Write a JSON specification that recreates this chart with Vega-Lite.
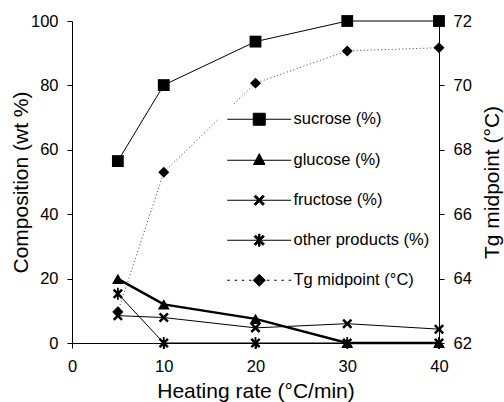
{
  "$schema": "https://vega.github.io/schema/vega-lite/v6.json",
  "width": 367,
  "height": 322,
  "autosize": {"type": "none"},
  "padding": {"left": 72, "top": 21, "right": 65, "bottom": 59},
  "background": "white",
  "config": {
    "font": "Liberation Sans",
    "view": {"stroke": null},
    "axis": {
      "grid": false,
      "domainColor": "black",
      "tickColor": "black",
      "labelColor": "black",
      "titleColor": "black",
      "labelFontSize": 16.5,
      "titleFontSize": 21,
      "titleFontWeight": "normal",
      "tickSize": 5,
      "labelPadding": 9
    },
    "legend": {
      "orient": "none",
      "legendX": 147,
      "legendY": 84,
      "fillColor": "white",
      "padding": 6,
      "labelFontSize": 16.5,
      "labelColor": "black",
      "symbolSize": 144,
      "symbolOpacity": 1,
      "symbolStrokeWidth": 1,
      "rowPadding": 23,
      "symbolOffset": 26,
      "labelOffset": 26
    }
  },
  "datasets": {
    "comp": [
      {"rate": 5, "series": "sucrose (%)", "value": 56.5},
      {"rate": 10, "series": "sucrose (%)", "value": 80.1},
      {"rate": 20, "series": "sucrose (%)", "value": 93.6},
      {"rate": 30, "series": "sucrose (%)", "value": 100},
      {"rate": 40, "series": "sucrose (%)", "value": 100},
      {"rate": 5, "series": "glucose (%)", "value": 19.9},
      {"rate": 10, "series": "glucose (%)", "value": 12.0},
      {"rate": 20, "series": "glucose (%)", "value": 7.5},
      {"rate": 30, "series": "glucose (%)", "value": 0},
      {"rate": 40, "series": "glucose (%)", "value": 0},
      {"rate": 5, "series": "fructose (%)", "value": 8.5},
      {"rate": 10, "series": "fructose (%)", "value": 7.9},
      {"rate": 20, "series": "fructose (%)", "value": 4.7},
      {"rate": 30, "series": "fructose (%)", "value": 6.0},
      {"rate": 40, "series": "fructose (%)", "value": 4.3},
      {"rate": 5, "series": "other products (%)", "value": 15.3},
      {"rate": 10, "series": "other products (%)", "value": 0},
      {"rate": 20, "series": "other products (%)", "value": 0},
      {"rate": 30, "series": "other products (%)", "value": 0},
      {"rate": 40, "series": "other products (%)", "value": 0}
    ],
    "tg": [
      {"rate": 5, "series": "Tg midpoint (°C)", "tg": 62.97},
      {"rate": 10, "series": "Tg midpoint (°C)", "tg": 67.3},
      {"rate": 20, "series": "Tg midpoint (°C)", "tg": 70.07},
      {"rate": 30, "series": "Tg midpoint (°C)", "tg": 71.07},
      {"rate": 40, "series": "Tg midpoint (°C)", "tg": 71.17}
    ]
  },
  "layer": [
    {
      "data": {"name": "comp"},
      "encoding": {
        "x": {
          "field": "rate", "type": "quantitative",
          "scale": {"domain": [0, 40], "nice": false},
          "axis": {"values": [0, 10, 20, 30, 40], "title": "Heating rate (°C/min)", "labelFlush": false, "labelPadding": 10, "titlePadding": 6}
        },
        "y": {
          "field": "value", "type": "quantitative",
          "scale": {"domain": [0, 100], "nice": false},
          "axis": {"values": [0, 20, 40, 60, 80, 100], "title": "Composition (wt %)", "titlePadding": -1}
        }
      },
      "layer": [
        {
          "transform": [{"filter": "datum.series !== 'glucose (%)'"}],
          "mark": {"type": "line", "color": "black", "strokeWidth": 1},
          "encoding": {"detail": {"field": "series"}}
        },
        {
          "transform": [{"filter": "datum.series === 'glucose (%)'"}],
          "mark": {"type": "line", "color": "black", "strokeWidth": 2.5},
          "encoding": {"detail": {"field": "series"}}
        },
        {
          "mark": {"type": "point", "filled": true, "color": "black", "opacity": 1, "size": 140},
          "encoding": {
            "shape": {
              "field": "series", "type": "nominal",
              "scale": {
                "domain": ["sucrose (%)", "glucose (%)", "fructose (%)", "other products (%)"],
                "range": ["square", "triangle-up", "M-0.85,-0.55L-0.55,-0.85L0,-0.3L0.55,-0.85L0.85,-0.55L0.3,0L0.85,0.55L0.55,0.85L0,0.3L-0.55,0.85L-0.85,0.55L-0.3,0Z", "M-0.85,-0.55L-0.55,-0.85L0,-0.3L0.55,-0.85L0.85,-0.55L0.3,0L0.85,0.55L0.55,0.85L0,0.3L-0.55,0.85L-0.85,0.55L-0.3,0ZM-0.15,-1H0.15V1H-0.15Z"]
              },
              "legend": null
            }
          }
        }
      ]
    },
    {
      "data": {"name": "tg"},
      "encoding": {
        "x": {
          "field": "rate", "type": "quantitative",
          "scale": {"domain": [0, 40], "nice": false},
          "axis": {"values": [0, 10, 20, 30, 40], "title": "Heating rate (°C/min)", "labelFlush": false, "labelPadding": 10, "titlePadding": 6}
        },
        "y": {
          "field": "tg", "type": "quantitative",
          "scale": {"domain": [62, 72], "nice": false},
          "axis": {"orient": "right", "values": [62, 64, 66, 68, 70, 72], "title": "Tg midpoint (°C)", "titleAngle": -90, "titleBaseline": "top", "titlePadding": 10}
        }
      },
      "layer": [
        {
          "mark": {"type": "line", "color": "#444444", "strokeWidth": 1, "strokeDash": [1, 2.5]},
          "encoding": {}
        },
        {
          "mark": {"type": "point", "filled": true, "color": "black", "opacity": 1, "size": 120, "shape": "diamond"},
          "encoding": {}
        }
      ]
    },
    {
      "data": {"name": "tg"},
      "mark": {"type": "point", "filled": true, "color": "black", "stroke": "black", "strokeWidth": 1, "size": 144, "clip": true},
      "encoding": {
        "x": {
          "field": "rate", "type": "quantitative",
          "scale": {"domain": [0, 40], "nice": false},
          "axis": {"values": [0, 10, 20, 30, 40], "title": "Heating rate (°C/min)", "labelFlush": false, "labelPadding": 10, "titlePadding": 6}
        },
        "y": {
          "field": "tg", "type": "quantitative",
          "scale": {"domain": [1000, 1001]},
          "axis": null
        },
        "shape": {
          "field": "series", "type": "nominal",
          "scale": {
            "domain": ["sucrose (%)", "glucose (%)", "fructose (%)", "other products (%)", "Tg midpoint (°C)"],
            "range": [
              "M-5.33,0H-1M1,0H5.33M-1,-1H1V1H-1Z",
              "M-5.33,0H5.33M0,-1.1L0.95,0.7H-0.95Z",
              "M-5.33,0H5.33M-0.85,-0.6L-0.6,-0.85L0,-0.25L0.6,-0.85L0.85,-0.6L0.25,0L0.85,0.6L0.6,0.85L0,0.25L-0.6,0.85L-0.85,0.6L-0.25,0Z",
              "M-5.33,0H5.33M-0.85,-0.6L-0.6,-0.85L0,-0.25L0.6,-0.85L0.85,-0.6L0.25,0L0.85,0.6L0.6,0.85L0,0.25L-0.6,0.85L-0.85,0.6L-0.25,0ZM-0.12,-1H0.12V1H-0.12Z",
              "M-5.33,0H-4.9M-4.1,0H-3.7M-2.9,0H-2.5M-1.7,0H-1.3M1.3,0H1.7M2.5,0H2.9M3.7,0H4.1M4.9,0H5.33M0,-1L1,0L0,1L-1,0Z"
            ]
          },
          "legend": {"title": null}
        }
      }
    }
  ],
  "resolve": {"scale": {"y": "independent", "shape": "independent"}, "legend": {"shape": "independent"}}
}
